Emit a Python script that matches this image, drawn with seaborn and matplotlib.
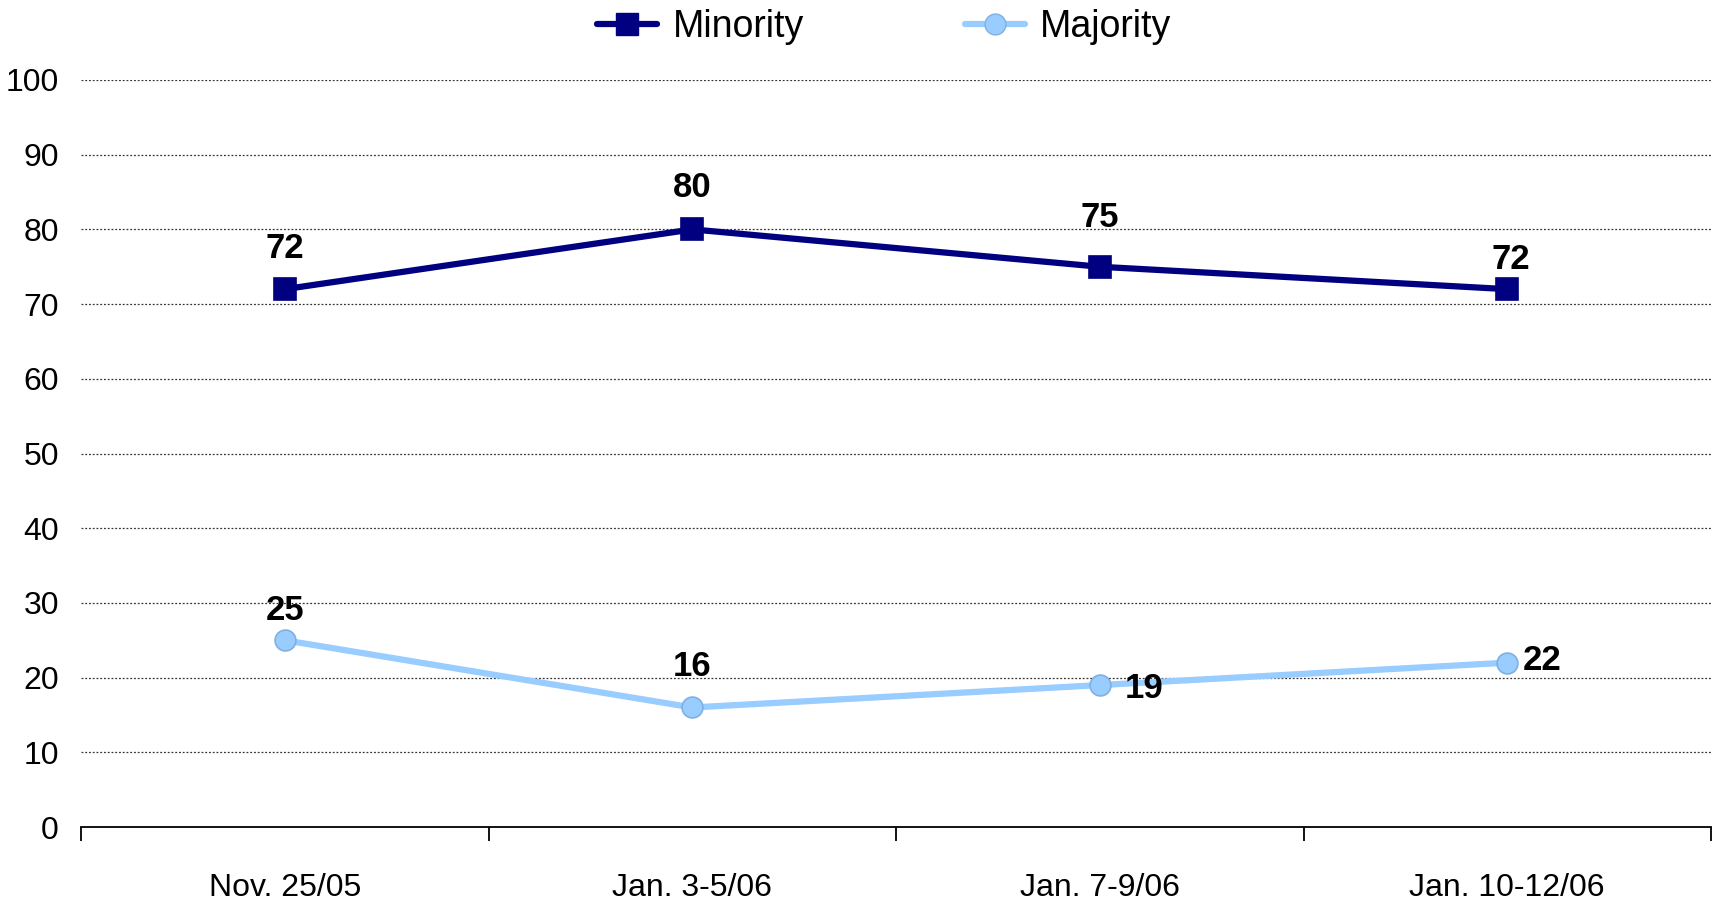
import matplotlib
matplotlib.use("Agg")
import matplotlib.pyplot as plt
import seaborn as sns
import pandas as pd
from matplotlib.lines import Line2D

categories = ["Nov. 25/05", "Jan. 3-5/06", "Jan. 7-9/06", "Jan. 10-12/06"]
minority = [72, 80, 75, 72]
majority = [25, 16, 19, 22]
yticks = [0, 10, 20, 30, 40, 50, 60, 70, 80, 90, 100]

navy = "#000080"
light = "#99CCFF"

sns.set_theme(style="white")
plt.rcParams['font.family'] = ['Liberation Sans', 'DejaVu Sans']
plt.rcParams['text.color'] = 'black'
plt.rcParams['xtick.color'] = 'black'
plt.rcParams['ytick.color'] = 'black'

df = pd.DataFrame({
    "date": categories * 2,
    "value": minority + majority,
    "group": ["Minority"] * 4 + ["Majority"] * 4,
})

fig = plt.figure(figsize=(17.17, 9.07), dpi=100)
ax = fig.add_axes([0.0472, 0.0882, 0.9493, 0.8236])

sns.lineplot(data=df, x="date", y="value", hue="group", style="group",
             markers={"Minority": "s", "Majority": "o"}, dashes=False,
             palette={"Minority": navy, "Majority": light},
             linewidth=4.5, markersize=16, markeredgewidth=1.2,
             ax=ax, legend=False, sort=False)
for ln in ax.lines:
    if ln.get_color() == light:
        ln.set_markeredgecolor("#7fb0e0")
        ln.set_markersize(15)
    else:
        ln.set_markeredgecolor(navy)

ax.set_xlim(-0.5, 3.5)
ax.set_ylim(0, 100)
ax.set_yticks(yticks)
ax.set_yticklabels([str(v) for v in yticks], fontsize=23, color="black")
ax.set_xticks(range(len(categories)))
ax.set_xticklabels(categories, fontsize=23, color="black")
ax.set_xticks([i - 0.5 for i in range(len(categories) + 1)], minor=True)
ax.tick_params(axis="x", which="major", bottom=False, length=0, pad=33)
ax.tick_params(axis="x", which="minor", bottom=True, length=10, width=1.3,
               color="black", direction="out")
ax.tick_params(axis="y", left=False, length=0, pad=16)
ax.set_xlabel("")
ax.set_ylabel("")

for v in yticks[1:]:
    ax.axhline(v, color="#333333", linestyle=(0, (1.5, 1.5)), linewidth=0.9, zorder=0)

for s in ["top", "right", "left"]:
    ax.spines[s].set_visible(False)
ax.spines["bottom"].set_color("black")
ax.spines["bottom"].set_linewidth(1.3)

min_off = [(0, 41), (0, 42), (0, 49), (4, 30)]
maj_off = [(0, 30), (0, 41), (44, -3), (35, 2)]
for i, (v, off) in enumerate(zip(minority, min_off)):
    ax.annotate(str(v), (i, v), xytext=off, textcoords="offset pixels",
                ha="center", va="center", fontsize=25, fontweight="bold", color="black")
for i, (v, off) in enumerate(zip(majority, maj_off)):
    ax.annotate(str(v), (i, v), xytext=off, textcoords="offset pixels",
                ha="center", va="center", fontsize=25, fontweight="bold", color="black")

handles = [
    Line2D([], [], color=navy, marker="s", linewidth=4.5, markersize=16, markeredgecolor=navy),
    Line2D([], [], color=light, marker="o", linewidth=4.5, markersize=15, markeredgecolor="#7fb0e0"),
]
fig.legend(handles, ["Minority", "Majority"], loc="center", bbox_to_anchor=(0.515, 0.97),
           ncol=2, frameon=False, fontsize=27, columnspacing=4.3, handlelength=1.6,
           handletextpad=0.4, labelcolor="black")

fig.savefig("out.png", dpi=100, facecolor="white")
